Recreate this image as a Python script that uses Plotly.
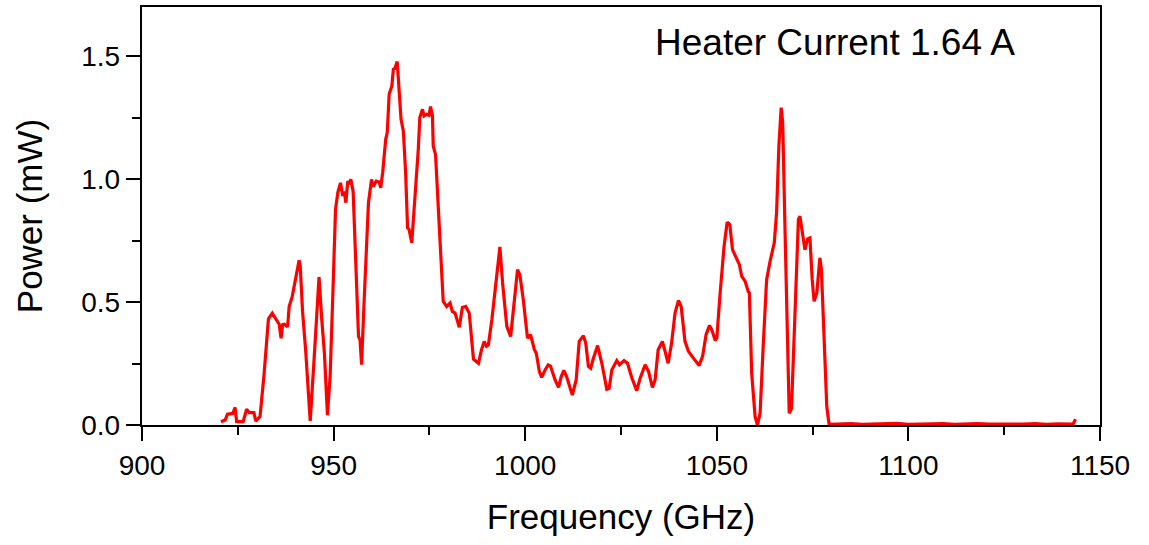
import plotly.graph_objects as go

freq = [920.6, 921.7, 922.3, 923.7, 924.3, 924.7, 926.4, 927.3, 928.0, 929.2, 929.7, 930.8,
        931.8, 933.0, 934.0, 934.7, 935.4, 935.8, 936.3, 936.7, 937.1, 938.0, 938.4, 939.2,
        940.2, 941.0, 941.3, 941.9, 942.7, 943.9, 944.9, 945.6, 946.2, 946.9, 947.6, 948.4,
        949.1, 949.9, 950.5, 951.1, 951.8, 952.4, 952.8, 953.2, 953.7, 954.1, 954.5, 955.1,
        955.8, 956.5, 956.9, 957.3, 957.9, 958.6, 959.1, 959.9, 960.4, 961.1, 961.9, 962.3,
        962.8, 963.6, 964.0, 964.5, 965.2, 965.6, 966.0, 966.6, 967.1, 967.6, 968.2, 968.8,
        969.3, 969.7, 970.4, 971.0, 971.5, 972.1, 972.5, 973.2, 973.6, 974.3, 974.9, 975.3,
        975.8, 976.0, 976.6, 977.9, 978.6, 979.5, 980.4, 981.0, 981.7, 982.8, 983.6, 984.5,
        985.4, 986.5, 987.8, 988.6, 989.3, 989.9, 990.4, 991.3, 992.4, 993.4, 994.1, 995.2,
        996.2, 997.1, 998.0, 998.6, 999.5, 1000.6, 1001.4, 1002.4, 1002.9, 1003.7, 1004.3, 1005.2,
        1006.0, 1006.6, 1007.8, 1008.7, 1009.4, 1010.1, 1010.8, 1012.3, 1013.3, 1014.1, 1015.2, 1015.8,
        1016.5, 1017.1, 1017.8, 1018.9, 1020.0, 1021.3, 1021.9, 1022.6, 1023.9, 1024.6, 1025.8, 1026.7,
        1027.8, 1029.1, 1030.0, 1031.3, 1032.2, 1033.2, 1033.9, 1034.7, 1035.8, 1036.4, 1037.3, 1038.2,
        1039.1, 1040.0, 1040.7, 1041.7, 1042.6, 1043.5, 1044.4, 1045.4, 1046.3, 1047.2, 1048.1, 1048.7,
        1049.6, 1050.0, 1050.8, 1051.9, 1052.7, 1053.4, 1054.1, 1055.0, 1055.9, 1056.5, 1057.4, 1058.2,
        1058.5, 1059.1, 1060.0, 1060.6, 1061.3, 1062.1, 1063.0, 1063.9, 1065.0, 1065.6, 1066.2, 1066.8,
        1067.2, 1067.8, 1068.4, 1068.9, 1069.5, 1070.1, 1070.8, 1071.3, 1071.7, 1072.2, 1073.0, 1073.7,
        1074.3, 1074.9, 1075.4, 1076.1, 1076.9, 1077.3, 1078.0, 1078.7, 1079.3,
        1082, 1085, 1088, 1091, 1094, 1097, 1100, 1103, 1106, 1109, 1112, 1115, 1118, 1121,
        1124, 1127, 1130, 1133, 1136, 1139, 1141, 1143.0, 1143.6]

power = [0.013, 0.02, 0.044, 0.047, 0.072, 0.014, 0.014, 0.064, 0.05, 0.05, 0.016, 0.034,
         0.197, 0.432, 0.455, 0.434, 0.42, 0.41, 0.353, 0.408, 0.41, 0.40, 0.482, 0.522,
         0.611, 0.670, 0.645, 0.461, 0.306, 0.017, 0.265, 0.432, 0.602, 0.432, 0.293, 0.04,
         0.20, 0.578, 0.877, 0.945, 0.985, 0.931, 0.95, 0.904, 0.992, 0.98, 0.999, 0.95,
         0.618, 0.36, 0.346, 0.245, 0.48, 0.713, 0.904, 0.999, 0.97, 0.992, 0.988, 0.965,
         1.026, 1.162, 1.189, 1.345, 1.379, 1.447, 1.45, 1.478, 1.338, 1.243, 1.196, 1.026,
         0.802, 0.795, 0.741, 0.877, 0.951, 1.121, 1.25, 1.284, 1.257, 1.264, 1.26, 1.295,
         1.257, 1.135, 1.10, 0.673, 0.503, 0.482, 0.496, 0.462, 0.455, 0.397, 0.478, 0.482,
         0.455, 0.268, 0.251, 0.306, 0.34, 0.32, 0.326, 0.428, 0.591, 0.724, 0.578, 0.401,
         0.36, 0.51, 0.632, 0.611, 0.51, 0.353, 0.367, 0.306, 0.292, 0.217, 0.194, 0.224,
         0.245, 0.24, 0.183, 0.153, 0.197, 0.222, 0.197, 0.122, 0.183, 0.34, 0.363, 0.333,
         0.238, 0.231, 0.272, 0.323, 0.251, 0.145, 0.149, 0.224, 0.262, 0.245, 0.262, 0.251,
         0.193, 0.14, 0.19, 0.245, 0.217, 0.153, 0.183, 0.306, 0.34, 0.306, 0.251, 0.333,
         0.455, 0.507, 0.482, 0.34, 0.30, 0.28, 0.262, 0.242, 0.28, 0.367, 0.405, 0.387,
         0.344, 0.353, 0.523, 0.727, 0.825, 0.815, 0.713, 0.686, 0.652, 0.605, 0.584, 0.543,
         0.537, 0.211, 0.034, 0.0, 0.048, 0.319, 0.591, 0.666, 0.741, 0.863, 1.135, 1.291,
         1.23, 0.795, 0.319, 0.048, 0.068, 0.319, 0.659, 0.836, 0.849, 0.795, 0.713, 0.757,
         0.761, 0.591, 0.503, 0.537, 0.68, 0.633, 0.319, 0.075, 0.003,
         0.004, 0.006, 0.003, 0.005, 0.004, 0.007, 0.003, 0.005, 0.004, 0.006, 0.003, 0.005,
         0.006, 0.004, 0.003, 0.005, 0.004, 0.006, 0.003, 0.005, 0.004, 0.004, 0.024]

x_ticks = [900, 950, 1000, 1050, 1100, 1150]
y_ticks = [0.0, 0.5, 1.0, 1.5]
y_tick_text = ["0.0", "0.5", "1.0", "1.5"]
label_text = "Heater Current 1.64 A"

FONT = "Liberation Sans, Arial, sans-serif"

fig = go.Figure()
fig.add_trace(go.Scatter(x=freq, y=power, mode="lines",
                         line=dict(color="#ff0000", width=3.2), showlegend=False))

fig.update_layout(
    width=1149, height=545,
    margin=dict(l=142, r=49, t=7, b=120, autoexpand=False),
    paper_bgcolor="white", plot_bgcolor="white",
    font=dict(family=FONT, color="black"),
    annotations=[dict(text=label_text, xref="paper", yref="paper", x=0.723, y=0.916,
                      xanchor="center", yanchor="middle", showarrow=False,
                      font=dict(size=37, family=FONT, color="black"))],
)
fig.update_xaxes(
    range=[900, 1150], tickvals=x_ticks, ticks="outside", ticklen=14, tickwidth=2,
    tickcolor="black", showline=True, linewidth=2.4, linecolor="black", mirror=True,
    showgrid=False, zeroline=False, tickfont=dict(size=28, family=FONT), automargin=False,
    minor=dict(dtick=25, tick0=900, ticks="outside", ticklen=8, tickwidth=2, tickcolor="black"),
    title=dict(text="Frequency (GHz)", font=dict(size=35, family=FONT), standoff=25),
)
fig.update_yaxes(
    range=[0, 1.70], tickvals=y_ticks, ticktext=y_tick_text, ticks="outside", ticklen=14,
    tickwidth=2, tickcolor="black", showline=True, linewidth=2.4, linecolor="black",
    mirror=True, showgrid=False, zeroline=False, tickfont=dict(size=28, family=FONT),
    automargin=False,
    minor=dict(dtick=0.25, tick0=0, ticks="outside", ticklen=8, tickwidth=2, tickcolor="black"),
    title=dict(text="Power (mW)", font=dict(size=35, family=FONT), standoff=28),
)

fig.write_html("out.html", config={"displayModeBar": False},
               post_script="document.body.style.margin='0';")
